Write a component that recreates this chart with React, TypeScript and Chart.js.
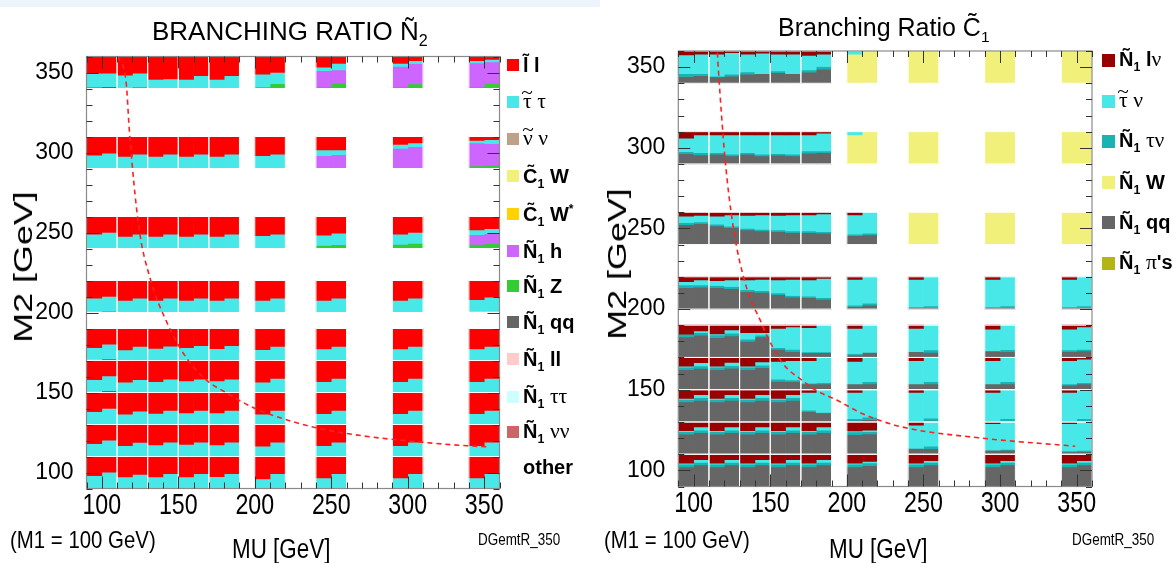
import React, { useEffect, useRef } from "react";
import { Chart, registerables } from "chart.js";

Chart.register(...registerables);

// ---------------- scan grid & axes ----------------
const MU_POINTS = [100, 120, 140, 160, 180, 210, 250, 300, 350];
const M2_POINTS = [100, 120, 140, 160, 180, 210, 250, 300, 350];
const AXIS_TICKS = [100, 150, 200, 250, 300, 350];
const AXIS_MIN = 90;
const AXIS_MAX = 360;
const MINOR_STEP = 10;
const CELL_SIZE = 20; // GeV covered by one scan point
const SUB_OFFSET = 5; // each cell is shown as two half-width sub-columns

// ---------------- N2 branching ratios ----------------
// rows: M2 = 100..350 ; each row: [left, right] fraction pairs for MU = 100..350
const N2_LL = [
  [0.6, 0.49, 0.64, 0.56, 0.64, 0.54, 0.64, 0.54, 0.63, 0.54, 0.7, 0.54, 0.67, 0.54, 0.67, 0.54, 0.67, 0.54],
  [0.6, 0.49, 0.66, 0.56, 0.64, 0.55, 0.62, 0.55, 0.64, 0.55, 0.68, 0.55, 0.66, 0.55, 0.66, 0.55, 0.66, 0.55],
  [0.6, 0.5, 0.68, 0.58, 0.65, 0.56, 0.64, 0.56, 0.64, 0.56, 0.68, 0.56, 0.66, 0.56, 0.66, 0.56, 0.66, 0.56],
  [0.6, 0.48, 0.68, 0.6, 0.66, 0.58, 0.64, 0.58, 0.64, 0.58, 0.68, 0.56, 0.66, 0.56, 0.66, 0.56, 0.66, 0.56],
  [0.6, 0.49, 0.67, 0.56, 0.62, 0.55, 0.6, 0.54, 0.63, 0.54, 0.66, 0.56, 0.64, 0.56, 0.64, 0.56, 0.64, 0.56],
  [0.55, 0.5, 0.62, 0.55, 0.62, 0.55, 0.62, 0.55, 0.62, 0.55, 0.62, 0.55, 0.62, 0.55, 0.62, 0.55, 0.6, 0.52],
  [0.55, 0.5, 0.62, 0.55, 0.62, 0.55, 0.62, 0.55, 0.62, 0.55, 0.6, 0.55, 0.58, 0.52, 0.55, 0.5, 0.42, 0.38],
  [0.58, 0.52, 0.62, 0.55, 0.62, 0.55, 0.62, 0.55, 0.62, 0.55, 0.6, 0.55, 0.42, 0.42, 0.25, 0.2, 0.12, 0.1],
  [0.52, 0.52, 0.58, 0.52, 0.72, 0.7, 0.72, 0.6, 0.72, 0.6, 0.55, 0.5, 0.33, 0.22, 0.22, 0.13, 0.13, 0.09],
];
const N2_STAU = [
  [0.4, 0.51, 0.36, 0.44, 0.36, 0.46, 0.36, 0.46, 0.37, 0.46, 0.3, 0.46, 0.33, 0.46, 0.33, 0.46, 0.33, 0.46],
  [0.4, 0.51, 0.34, 0.44, 0.36, 0.45, 0.38, 0.45, 0.36, 0.45, 0.32, 0.45, 0.34, 0.45, 0.34, 0.45, 0.34, 0.45],
  [0.4, 0.5, 0.32, 0.42, 0.35, 0.44, 0.36, 0.44, 0.36, 0.44, 0.32, 0.44, 0.34, 0.44, 0.34, 0.44, 0.34, 0.44],
  [0.35, 0.46, 0.32, 0.4, 0.34, 0.42, 0.36, 0.42, 0.36, 0.42, 0.32, 0.44, 0.34, 0.44, 0.34, 0.44, 0.34, 0.44],
  [0.35, 0.46, 0.33, 0.44, 0.38, 0.45, 0.4, 0.46, 0.37, 0.46, 0.34, 0.44, 0.36, 0.44, 0.36, 0.44, 0.36, 0.44],
  [0.4, 0.46, 0.38, 0.45, 0.38, 0.45, 0.38, 0.45, 0.38, 0.45, 0.38, 0.45, 0.38, 0.45, 0.38, 0.45, 0.36, 0.44],
  [0.45, 0.5, 0.38, 0.45, 0.38, 0.45, 0.38, 0.45, 0.38, 0.45, 0.4, 0.45, 0.32, 0.36, 0.32, 0.34, 0.15, 0.15],
  [0.42, 0.48, 0.38, 0.45, 0.38, 0.45, 0.38, 0.45, 0.38, 0.45, 0.4, 0.45, 0.18, 0.15, 0.12, 0.12, 0.08, 0.12],
  [0.44, 0.42, 0.4, 0.44, 0.28, 0.3, 0.28, 0.4, 0.28, 0.4, 0.4, 0.35, 0.11, 0.2, 0.09, 0.09, 0.07, 0.08],
];
// sparse channels: [MU, M2, left fraction, right fraction]
const N2_C1WSTAR = [
  [100, 160, 0.05, 0],
  [100, 180, 0.05, 0],
  [100, 210, 0.05, 0],
];
const N2_N1H = [
  [350, 250, 0.3, 0.32],
  [250, 300, 0.4, 0.43],
  [300, 300, 0.63, 0.68],
  [350, 300, 0.72, 0.68],
  [250, 350, 0.5, 0.41],
  [300, 350, 0.63, 0.64],
  [350, 350, 0.74, 0.67],
];
const N2_N1Z = [
  [250, 250, 0.1, 0.12],
  [300, 250, 0.13, 0.16],
  [350, 250, 0.13, 0.15],
  [350, 300, 0.08, 0.1],
  [210, 350, 0.05, 0.15],
  [250, 350, 0.06, 0.17],
  [300, 350, 0.06, 0.14],
  [350, 350, 0.06, 0.16],
];
const N2_N1QQ = [
  [100, 160, 0, 0.06],
  [100, 180, 0, 0.05],
  [100, 350, 0.04, 0.06],
  [120, 350, 0.02, 0.04],
];
const N2_N1LL = [[350, 210, 0.04, 0.04]];
const N2_N1NN = [[100, 210, 0, 0.04]];

// ---------------- C1 branching ratios ----------------
const C1_N1LNU = [
  [0.28, 0.17, 0.28, 0.17, 0.28, 0.17, 0.28, 0.17, 0.28, 0.17, 0.28, 0.22, 0.28, 0.2, 0.28, 0.2, 0.28, 0.2],
  [0.27, 0.15, 0.27, 0.15, 0.27, 0.15, 0.27, 0.15, 0.27, 0.15, 0.28, 0.25, 0.1, 0, 0.05, 0, 0.05, 0],
  [0.27, 0.15, 0.27, 0.15, 0.27, 0.15, 0.27, 0.15, 0.08, 0, 0.08, 0, 0.08, 0, 0.08, 0, 0.08, 0],
  [0.27, 0.16, 0.27, 0.15, 0.27, 0.14, 0.12, 0.1, 0.1, 0, 0.12, 0, 0.1, 0, 0.1, 0, 0.1, 0.05],
  [0.28, 0.18, 0.27, 0.15, 0.23, 0.23, 0.1, 0.05, 0.08, 0, 0.1, 0, 0.1, 0, 0.12, 0, 0.12, 0.05],
  [0.15, 0.1, 0.12, 0.1, 0.1, 0.08, 0.1, 0.08, 0.1, 0.05, 0.08, 0, 0.08, 0, 0.08, 0, 0.08, 0],
  [0.12, 0.1, 0.12, 0.08, 0.1, 0.08, 0.1, 0.08, 0.08, 0.05, 0.08, 0, 0, 0, 0, 0, 0, 0],
  [0.2, 0.1, 0.1, 0.1, 0.1, 0.1, 0.1, 0.1, 0.1, 0.05, 0, 0, 0, 0, 0, 0, 0, 0],
  [0.12, 0.1, 0.1, 0.05, 0.1, 0.07, 0.1, 0.1, 0.14, 0.1, 0, 0, 0, 0, 0, 0, 0, 0],
];
const C1_STAUNU = [
  [0.03, 0.08, 0.03, 0.08, 0.03, 0.08, 0.03, 0.08, 0.03, 0.08, 0.03, 0.05, 0.03, 0.05, 0.03, 0.05, 0.03, 0.05],
  [0.03, 0.1, 0.03, 0.1, 0.03, 0.1, 0.03, 0.1, 0.03, 0.1, 0.03, 0.05, 0.72, 0.75, 0.82, 0.85, 0.85, 0.88],
  [0.03, 0.1, 0.03, 0.1, 0.03, 0.1, 0.03, 0.1, 0.55, 0.7, 0.82, 0.85, 0.88, 0.88, 0.88, 0.9, 0.88, 0.9],
  [0.03, 0.1, 0.03, 0.1, 0.03, 0.1, 0.55, 0.6, 0.7, 0.78, 0.7, 0.75, 0.72, 0.75, 0.72, 0.75, 0.72, 0.73],
  [0, 0.05, 0.03, 0.1, 0.2, 0.08, 0.6, 0.7, 0.75, 0.83, 0.78, 0.84, 0.72, 0.77, 0.68, 0.76, 0.65, 0.7],
  [0.1, 0.15, 0.15, 0.2, 0.3, 0.35, 0.4, 0.5, 0.5, 0.6, 0.8, 0.82, 0.85, 0.9, 0.85, 0.9, 0.85, 0.9],
  [0.2, 0.2, 0.25, 0.35, 0.4, 0.45, 0.45, 0.5, 0.5, 0.55, 0.6, 0.65, 0, 0, 0, 0, 0, 0],
  [0.42, 0.55, 0.55, 0.6, 0.55, 0.6, 0.58, 0.6, 0.5, 0.55, 0.1, 0, 0, 0, 0, 0, 0, 0],
  [0.58, 0.6, 0.68, 0.67, 0.55, 0.63, 0.52, 0.6, 0.45, 0.38, 0.1, 0, 0, 0, 0, 0, 0, 0],
];
const C1_N1TAUNU = [
  [0.08, 0.08, 0.08, 0.08, 0.08, 0.08, 0.08, 0.08, 0.08, 0.08, 0.08, 0.08, 0.08, 0.08, 0.08, 0.08, 0.08, 0.08],
  [0.08, 0.08, 0.08, 0.08, 0.08, 0.08, 0.08, 0.08, 0.08, 0.08, 0.08, 0.07, 0, 0.08, 0, 0.02, 0.03, 0.04],
  [0.08, 0.08, 0.08, 0.08, 0.08, 0.08, 0.08, 0.08, 0.05, 0.02, 0.05, 0.08, 0, 0.07, 0, 0.06, 0, 0.06],
  [0.08, 0.08, 0.08, 0.08, 0.08, 0.08, 0.07, 0.05, 0.02, 0.04, 0, 0.07, 0, 0.07, 0, 0.07, 0.04, 0.04],
  [0.08, 0.08, 0.08, 0.08, 0.07, 0.05, 0.05, 0.07, 0.02, 0.02, 0.05, 0, 0, 0.07, 0, 0.06, 0.05, 0.05],
  [0.08, 0.07, 0.07, 0.07, 0.06, 0.05, 0.05, 0.05, 0.05, 0.05, 0.04, 0.06, 0.02, 0.05, 0.02, 0.05, 0.02, 0.05],
  [0.06, 0.05, 0.05, 0.05, 0.05, 0.05, 0.05, 0.05, 0.05, 0.05, 0.04, 0.05, 0, 0, 0, 0, 0, 0],
  [0.06, 0.07, 0.05, 0.05, 0.05, 0.05, 0.05, 0.05, 0.07, 0.05, 0, 0, 0, 0, 0, 0, 0, 0],
  [0.09, 0.06, 0.02, 0.06, 0.07, 0, 0.05, 0, 0.07, 0.08, 0, 0, 0, 0, 0, 0, 0, 0],
];
const C1_N1W = [
  [250, 250, 1, 1],
  [300, 250, 1, 1],
  [350, 250, 1, 1],
  [210, 300, 0.9, 1],
  [250, 300, 1, 1],
  [300, 300, 1, 1],
  [350, 300, 1, 1],
  [210, 350, 0.9, 1],
  [250, 350, 1, 1],
  [300, 350, 1, 1],
  [350, 350, 1, 1],
];
const C1_N1QQ = [
  [0.61, 0.67, 0.61, 0.67, 0.61, 0.67, 0.61, 0.67, 0.61, 0.67, 0.61, 0.65, 0.61, 0.67, 0.61, 0.67, 0.61, 0.67],
  [0.62, 0.67, 0.62, 0.67, 0.62, 0.67, 0.62, 0.67, 0.62, 0.67, 0.61, 0.63, 0.18, 0.17, 0.13, 0.13, 0.07, 0.08],
  [0.62, 0.67, 0.62, 0.67, 0.62, 0.67, 0.62, 0.67, 0.32, 0.28, 0.05, 0.07, 0.04, 0.05, 0.04, 0.04, 0.04, 0.04],
  [0.62, 0.66, 0.62, 0.67, 0.62, 0.68, 0.26, 0.25, 0.18, 0.18, 0.18, 0.18, 0.18, 0.18, 0.18, 0.18, 0.14, 0.18],
  [0.64, 0.69, 0.62, 0.67, 0.5, 0.64, 0.25, 0.18, 0.15, 0.15, 0.07, 0.16, 0.18, 0.16, 0.2, 0.18, 0.18, 0.2],
  [0.67, 0.68, 0.66, 0.63, 0.54, 0.52, 0.45, 0.37, 0.35, 0.3, 0.08, 0.12, 0.05, 0.05, 0.05, 0.05, 0.05, 0.05],
  [0.62, 0.65, 0.58, 0.52, 0.45, 0.42, 0.4, 0.37, 0.37, 0.35, 0.28, 0.3, 0, 0, 0, 0, 0, 0],
  [0.32, 0.28, 0.3, 0.25, 0.3, 0.25, 0.27, 0.25, 0.33, 0.35, 0, 0, 0, 0, 0, 0, 0, 0],
  [0.21, 0.24, 0.2, 0.22, 0.28, 0.3, 0.33, 0.3, 0.34, 0.44, 0, 0, 0, 0, 0, 0, 0, 0],
];

// ---------------- dashed curves ----------------
const N2_CURVE_MU = [110.5, 116, 118, 124, 132, 142, 154, 168, 180, 198, 211, 240, 270, 312, 339, 353];
const N2_CURVE_M2 = [360, 343, 314, 255, 220, 195, 173.5, 158, 150.6, 141, 136, 128, 123, 118.7, 116.7, 116];
const C1_CURVE_MU = [115.5, 116.1, 120.5, 126, 134, 144.4, 147.7, 158.5, 170.5, 180.3, 193.4, 210.8, 235.6, 286, 343.6, 349];
const C1_CURVE_M2 = [359, 349.3, 293.4, 250, 215, 191, 183.7, 166, 156, 149.4, 143.6, 134.9, 127, 120.2, 115.4, 115];

// ---------------- channels (stack order: top of cell first) ----------------
type Channel = { label: string; color: string; grid?: number[][]; sparse?: number[][] };

const N2_CHANNELS: Channel[] = [
  { label: "l~ l", color: "#ff0000", grid: N2_LL },
  { label: "tau~ tau", color: "#48e8e8", grid: N2_STAU },
  { label: "C1 W*", color: "#ffd200", sparse: N2_C1WSTAR },
  { label: "N1 h", color: "#cc66ff", sparse: N2_N1H },
  { label: "N1 Z", color: "#33cc33", sparse: N2_N1Z },
  { label: "N1 qq", color: "#666666", sparse: N2_N1QQ },
  { label: "N1 ll", color: "#ffcccc", sparse: N2_N1LL },
  { label: "N1 nunu", color: "#cc6666", sparse: N2_N1NN },
];
const C1_CHANNELS: Channel[] = [
  { label: "N1 l nu", color: "#990000", grid: C1_N1LNU },
  { label: "tau~ nu", color: "#48e8e8", grid: C1_STAUNU },
  { label: "N1 tau nu", color: "#18b4b4", grid: C1_N1TAUNU },
  { label: "N1 W", color: "#f0f07a", sparse: C1_N1W },
  { label: "N1 qq", color: "#666666", grid: C1_N1QQ },
];

const SANS = '"Liberation Sans", Arial, Helvetica, sans-serif';
const SERIF = '"Liberation Serif", "Times New Roman", serif';

function fracOf(ch: Channel, r: number, c: number, h: number): number {
  if (ch.grid) return ch.grid[r][c * 2 + h] || 0;
  const e = (ch.sparse || []).find((s) => s[0] === MU_POINTS[c] && s[1] === M2_POINTS[r]);
  return e ? e[2 + h] : 0;
}

function buildBarDatasets(channels: Channel[]) {
  const used: Record<string, number> = {};
  return channels.map((ch) => {
    const data: any[] = [];
    M2_POINTS.forEach((m2, r) => {
      MU_POINTS.forEach((mu, c) => {
        [0, 1].forEach((h) => {
          const f = fracOf(ch, r, c, h);
          const key = `${r}-${c}-${h}`;
          const u = used[key] || 0;
          if (f > 0) {
            const top = m2 + CELL_SIZE / 2 - u * CELL_SIZE;
            data.push({ x: mu + (h ? SUB_OFFSET : -SUB_OFFSET), y: [top - f * CELL_SIZE, top] });
          }
          used[key] = u + f;
        });
      });
    });
    return {
      type: "bar",
      label: ch.label,
      data,
      backgroundColor: ch.color,
      borderWidth: 0,
      barPercentage: 1,
      categoryPercentage: 1,
      grouped: false,
      order: 1,
    };
  });
}

const cellBorderPlugin = {
  id: "cellBorders",
  beforeDatasetDraw(chart: any, args: any) {
    if (chart.data.datasets[args.index].type !== "line") return;
    const { ctx } = chart;
    const xs = chart.scales.x;
    const ys = chart.scales.y;
    ctx.save();
    ctx.strokeStyle = "#ffffff";
    ctx.lineWidth = 1;
    MU_POINTS.forEach((mu) => {
      M2_POINTS.forEach((m2) => {
        const x0 = xs.getPixelForValue(mu - CELL_SIZE / 2);
        const x1 = xs.getPixelForValue(mu + CELL_SIZE / 2);
        const y0 = ys.getPixelForValue(m2 - CELL_SIZE / 2);
        const y1 = ys.getPixelForValue(m2 + CELL_SIZE / 2);
        ctx.strokeRect(x0, y1, x1 - x0, y0 - y1);
      });
    });
    ctx.restore();
  },
};

const frameTickPlugin = {
  id: "frameTicks",
  afterDatasetsDraw(chart: any) {
    const { ctx, chartArea } = chart;
    const { left, right, top, bottom } = chartArea;
    const xs = chart.scales.x;
    const ys = chart.scales.y;
    ctx.save();
    ctx.strokeStyle = "#8a8a8a";
    ctx.lineWidth = 1.2;
    ctx.strokeRect(left, top, right - left, bottom - top);
    ctx.strokeStyle = "#333333";
    ctx.lineWidth = 1;
    ctx.beginPath();
    for (let v = AXIS_MIN; v <= AXIS_MAX; v += MINOR_STEP) {
      const L = AXIS_TICKS.includes(v) ? 12 : 6;
      const px = Math.round(xs.getPixelForValue(v)) + 0.5;
      const py = Math.round(ys.getPixelForValue(v)) + 0.5;
      ctx.moveTo(px, bottom);
      ctx.lineTo(px, bottom - L);
      ctx.moveTo(px, top);
      ctx.lineTo(px, top + L);
      ctx.moveTo(left, py);
      ctx.lineTo(left + L, py);
      ctx.moveTo(right, py);
      ctx.lineTo(right - L, py);
    }
    ctx.stroke();
    ctx.restore();
  },
  afterDraw(chart: any) {
    const { ctx, chartArea } = chart;
    const xs = chart.scales.x;
    ctx.save();
    ctx.fillStyle = "#000";
    ctx.font = `29px ${SANS}`;
    ctx.textAlign = "center";
    ctx.textBaseline = "alphabetic";
    xs.ticks.forEach((t: any) => {
      const px = xs.getPixelForValue(t.value);
      ctx.save();
      ctx.translate(px, chartArea.bottom + 25);
      ctx.scale(0.8, 1);
      ctx.fillText(String(t.value), 0, 0);
      ctx.restore();
    });
    ctx.restore();
  },
};

type Geom = { w: number; h: number; left: number; top: number; right: number; bottom: number };

function makeChart(canvas: HTMLCanvasElement, g: Geom, channels: Channel[], cMu: number[], cM2: number[]) {
  const bars = buildBarDatasets(channels);
  const line = {
    type: "line",
    label: "curve",
    data: cMu.map((x, i) => ({ x, y: cM2[i] })),
    borderColor: "#ff2020",
    borderWidth: 1.6,
    borderDash: [5, 4],
    pointRadius: 0,
    fill: false,
    cubicInterpolationMode: "monotone",
    order: -1,
  };
  const setTicks = (s: any) => {
    s.ticks = AXIS_TICKS.map((v) => ({ value: v }));
  };
  return new Chart(canvas, {
    type: "bar",
    data: { datasets: [...bars, line] as any },
    options: {
      responsive: false,
      maintainAspectRatio: false,
      animation: false,
      devicePixelRatio: 1,
      events: [],
      layout: { padding: { left: 0, top: g.top, right: g.w - g.right, bottom: 0 } },
      plugins: { legend: { display: false }, tooltip: { enabled: false }, title: { display: false } },
      scales: {
        x: {
          type: "linear",
          min: AXIS_MIN,
          max: AXIS_MAX,
          offset: false,
          afterBuildTicks: setTicks,
          ticks: { display: false },
          grid: { display: false, offset: false },
          border: { display: false },
          afterFit: (s: any) => {
            s.height = g.h - g.bottom;
          },
        },
        y: {
          type: "linear",
          min: AXIS_MIN,
          max: AXIS_MAX,
          afterBuildTicks: setTicks,
          ticks: { color: "#000", padding: 5, font: { family: SANS, size: 23 } },
          grid: { display: false },
          border: { display: false },
          afterFit: (s: any) => {
            s.width = g.left;
          },
        },
      },
    } as any,
    plugins: [cellBorderPlugin, frameTickPlugin],
  });
}

const LEFT_GEOM: Geom = { w: 600, h: 563, left: 86.5, top: 56.5, right: 499.5, bottom: 488.5 };
const RIGHT_GEOM: Geom = { w: 573, h: 563, left: 78.3, top: 51, right: 492, bottom: 486.5 };

const Sub = ({ c }: { c: string }) => (
  <span style={{ fontSize: "0.62em", position: "relative", top: "0.38em" }}>{c}</span>
);
const Gr = ({ c }: { c: string }) => (
  <span style={{ fontFamily: SERIF, fontWeight: 400, fontSize: "1.08em" }}>{c}</span>
);
// a Greek letter carrying a tilde accent drawn above it
const GrT = ({ c }: { c: string }) => (
  <span
    style={{
      position: "relative",
      display: "inline-block",
      fontFamily: SERIF,
      fontWeight: 400,
      fontSize: "1.08em",
    }}
  >
    {c}
    <span
      style={{
        position: "absolute",
        left: "50%",
        top: "-0.42em",
        transform: "translateX(-50%) scaleX(1.1)",
        fontSize: "0.9em",
        lineHeight: 1,
      }}
    >
      ~
    </span>
  </span>
);

function LegendRow({ x, y, color, size, children }: any) {
  return (
    <div
      style={{
        position: "absolute",
        left: x,
        top: y - 15,
        height: 30,
        display: "flex",
        alignItems: "center",
        whiteSpace: "nowrap",
        fontFamily: SANS,
        fontWeight: 700,
        fontSize: 20,
        lineHeight: 1,
        color: "#000",
      }}
    >
      <div style={{ width: size, height: size, background: color || "transparent", marginRight: 4 }} />
      <div>{children}</div>
    </div>
  );
}

function Txt({ x, y, size, sx, children, weight }: any) {
  return (
    <div
      style={{
        position: "absolute",
        left: x,
        top: y,
        fontFamily: SANS,
        fontSize: size,
        lineHeight: 1,
        whiteSpace: "nowrap",
        fontWeight: weight || 400,
        transform: `translateY(-50%) scaleX(${sx || 1})`,
        transformOrigin: "left center",
        color: "#000",
      }}
    >
      {children}
    </div>
  );
}

function YTitle({ x, y }: any) {
  return (
    <div
      style={{
        position: "absolute",
        left: x,
        top: y,
        fontFamily: SANS,
        fontSize: 26,
        lineHeight: 1,
        whiteSpace: "nowrap",
        transform: "translate(-50%,-50%) rotate(-90deg) scaleX(1.38)",
        color: "#000",
      }}
    >
      M2 [GeV]
    </div>
  );
}

export default function App() {
  const c1 = useRef<HTMLCanvasElement>(null);
  const c2 = useRef<HTMLCanvasElement>(null);
  useEffect(() => {
    const a = makeChart(c1.current!, LEFT_GEOM, N2_CHANNELS, N2_CURVE_MU, N2_CURVE_M2);
    const b = makeChart(c2.current!, RIGHT_GEOM, C1_CHANNELS, C1_CURVE_MU, C1_CURVE_M2);
    return () => {
      a.destroy();
      b.destroy();
    };
  }, []);

  const lx = 507;
  const ly = [65, 102, 139, 176, 214, 251, 286, 322, 359, 397, 432, 467];
  const rx = 1102;
  const ry = [60, 101, 141, 182, 222, 263];
  const N1 = (
    <>
      {"\u00d1"}
      <Sub c="1" />
    </>
  );
  const C1 = (
    <>
      {"C\u0303"}
      <Sub c="1" />
    </>
  );

  return (
    <div
      style={{
        position: "fixed",
        left: 0,
        top: 0,
        width: 1173,
        height: 563,
        overflow: "hidden",
        background: "#ffffff",
      }}
    >
      <div style={{ position: "absolute", left: 0, top: 0, width: 600, height: 7, background: "#eef4fb" }} />
      <canvas ref={c1} width={600} height={563} style={{ position: "absolute", left: 0, top: 0, width: 600, height: 563 }} />
      <canvas ref={c2} width={573} height={563} style={{ position: "absolute", left: 600, top: 0, width: 573, height: 563 }} />

      {/* titles */}
      <Txt x={152} y={31} size={26}>
        BRANCHING RATIO {"\u00d1"}
        <Sub c="2" />
      </Txt>
      <Txt x={778} y={27} size={25}>
        Branching Ratio {"C\u0303"}
        <Sub c="1" />
      </Txt>

      {/* axis titles */}
      <YTitle x={23} y={267} />
      <YTitle x={617} y={264} />
      <Txt x={232} y={549} size={27} sx={0.83}>
        MU [GeV]
      </Txt>
      <Txt x={829} y={549} size={27} sx={0.83}>
        MU [GeV]
      </Txt>
      <Txt x={10} y={540} size={24} sx={0.85}>
        (M1 = 100 GeV)
      </Txt>
      <Txt x={604} y={540} size={24} sx={0.85}>
        (M1 = 100 GeV)
      </Txt>
      <Txt x={478} y={540} size={16} sx={0.84}>
        DGemtR_350
      </Txt>
      <Txt x={1072} y={540} size={16} sx={0.84}>
        DGemtR_350
      </Txt>

      {/* left legend */}
      <LegendRow x={lx} y={ly[0]} size={12} color="#ff0000">
        {"l\u0303 l"}
      </LegendRow>
      <LegendRow x={lx} y={ly[1]} size={12} color="#48e8e8">
        <GrT c={"\u03c4"} /> <Gr c={"\u03c4"} />
      </LegendRow>
      <LegendRow x={lx} y={ly[2]} size={12} color="#bfa088">
        <GrT c={"\u03bd"} /> <Gr c={"\u03bd"} />
      </LegendRow>
      <LegendRow x={lx} y={ly[3]} size={12} color="#f0f07a">
        {C1} W
      </LegendRow>
      <LegendRow x={lx} y={ly[4]} size={12} color="#ffd200">
        {C1} W<span style={{ fontSize: "0.6em", position: "relative", top: "-0.7em" }}>*</span>
      </LegendRow>
      <LegendRow x={lx} y={ly[5]} size={12} color="#cc66ff">
        {N1} h
      </LegendRow>
      <LegendRow x={lx} y={ly[6]} size={12} color="#33cc33">
        {N1} Z
      </LegendRow>
      <LegendRow x={lx} y={ly[7]} size={12} color="#666666">
        {N1} qq
      </LegendRow>
      <LegendRow x={lx} y={ly[8]} size={12} color="#ffcccc">
        {N1} ll
      </LegendRow>
      <LegendRow x={lx} y={ly[9]} size={12} color="#ccffff">
        {N1} <Gr c={"\u03c4\u03c4"} />
      </LegendRow>
      <LegendRow x={lx} y={ly[10]} size={12} color="#cc6666">
        {N1} <Gr c={"\u03bd\u03bd"} />
      </LegendRow>
      <LegendRow x={lx} y={ly[11]} size={12} color={null}>
        other
      </LegendRow>

      {/* right legend */}
      <LegendRow x={rx} y={ry[0]} size={13} color="#990000">
        {N1} l<Gr c={"\u03bd"} />
      </LegendRow>
      <LegendRow x={rx} y={ry[1]} size={13} color="#48e8e8">
        <GrT c={"\u03c4"} /> <Gr c={"\u03bd"} />
      </LegendRow>
      <LegendRow x={rx} y={ry[2]} size={13} color="#18b4b4">
        {N1} <Gr c={"\u03c4\u03bd"} />
      </LegendRow>
      <LegendRow x={rx} y={ry[3]} size={13} color="#f0f07a">
        {N1} W
      </LegendRow>
      <LegendRow x={rx} y={ry[4]} size={13} color="#666666">
        {N1} qq
      </LegendRow>
      <LegendRow x={rx} y={ry[5]} size={13} color="#b4b414">
        {N1} <Gr c={"\u03c0"} />
        's
      </LegendRow>
    </div>
  );
}
